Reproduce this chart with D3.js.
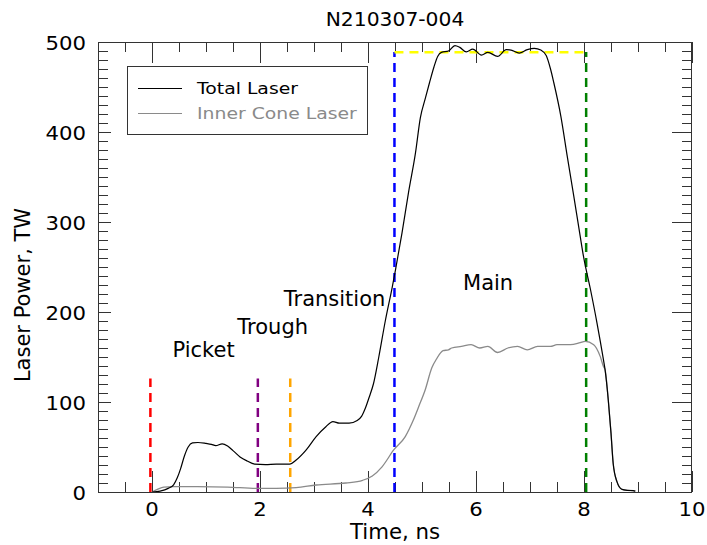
<!DOCTYPE html>
<html lang="en">
    <head>
        <meta charset="utf-8">
        <title>N210307-004</title>
        <script src="https://d3js.org/d3.v7.min.js"></script>
    </head>

    <style type="text/css">
        body {
            margin: 0;
            background: white;
        }

        text {
            font-family: "DejaVu Sans", sans-serif;
        }
    </style>

    <body>
        <div class="chart"></div>
        <script type="text/javascript">
            // laser pulse shape
            var totalTime = [0.00, 0.15, 0.30, 0.40, 0.47, 0.53, 0.60, 0.67, 0.75, 0.85, 1.00, 1.10, 1.18, 1.30, 1.40, 1.50, 1.63, 1.76, 1.90, 2.10, 2.30, 2.55, 2.67, 2.86, 3.04, 3.22, 3.35, 3.47, 3.65, 3.80, 3.88, 3.95, 4.02, 4.10, 4.20, 4.32, 4.45, 4.51, 4.63, 4.75, 4.88, 4.97, 5.06, 5.14, 5.22, 5.29, 5.36, 5.49, 5.61, 5.70, 5.82, 5.94, 6.10, 6.22, 6.40, 6.56, 6.65, 6.80, 6.95, 7.08, 7.20, 7.30, 7.38, 7.44, 7.57, 7.69, 7.81, 7.93, 7.99, 8.12, 8.24, 8.36, 8.39, 8.45, 8.50, 8.54, 8.61, 8.70, 8.80, 8.91, 8.95];
            var totalPower = [0, 1, 4, 8, 16, 26, 40, 50, 54.5, 55, 54, 53, 51.5, 53.5, 51, 46, 39, 34.5, 31, 30.5, 31, 31, 35.5, 47, 61.5, 72.5, 78.3, 76.5, 76.5, 79.4, 84, 93, 105, 120, 150, 190, 228, 247, 288, 332.6, 377, 416, 437, 455, 472, 484, 488.5, 490, 496, 494, 489, 492, 485.5, 488.5, 484, 491.5, 491, 487.7, 491.5, 493, 491, 485, 470, 455, 418, 373, 329, 284, 262, 225, 188, 147, 136, 102, 65.5, 32, 11.5, 3, 1.8, 1.5, 1];

            var innerTime = [0.00, 0.10, 0.22, 0.40, 0.84, 1.40, 1.94, 2.30, 2.67, 3.04, 3.59, 3.90, 4.08, 4.26, 4.48, 4.69, 4.84, 4.94, 5.06, 5.18, 5.27, 5.39, 5.49, 5.55, 5.73, 5.91, 6.07, 6.22, 6.40, 6.59, 6.77, 6.95, 7.14, 7.38, 7.50, 7.75, 7.93, 8.02, 8.18, 8.30, 8.36, 8.39, 8.45, 8.50, 8.54, 8.61, 8.70, 8.80, 8.91, 8.95];
            var innerPower = [0, 3, 5.5, 6, 6, 5.5, 4, 4, 4.8, 7.8, 10, 13, 17.8, 28, 47, 61.6, 80, 95, 113.6, 137.7, 148, 157, 158, 160, 161.8, 163.7, 160, 161.8, 155, 160, 161.8, 158, 161.8, 161.8, 163.7, 163.7, 166, 167.4, 163.7, 150.7, 139.5, 136, 102, 65.5, 32, 11.5, 3, 1.8, 1.5, 1];

            // phase markers: time, top of the line, colour
            var markerTime = [-0.03, 1.96, 2.56, 4.49, 8.04];
            var markerTop = [126, 126, 126, 489, 489];
            var markerColor = ["red", "purple", "orange", "blue", "green"];
            var flatTop = 488.5;

            var phaseLabels = ["Picket", "Trough", "Transition", "Main"];
            var phaseX = [0.38, 1.58, 2.44, 5.76];
            var phaseY = [150, 176, 207, 225];

            var xTicks = [0, 2, 4, 6, 8, 10];
            var yTicks = [0, 100, 200, 300, 400, 500];

            var legendNames = ["Total Laser", "Inner Cone Laser"];
            var legendColors = ["black", "#8a8a8a"];

            // setup canvas
            var width = 707, height = 545;
            var plotL = 98, plotR = 692, plotT = 42, plotB = 492;

            var canvas = d3.select(".chart")
                        .append("svg")
                        .attr("width", width)
                        .attr("height", height);

            var xScale = d3.scaleLinear().domain([-1, 10]).range([plotL, plotR]);
            var yScale = d3.scaleLinear().domain([0, 500]).range([plotB, plotT]);

            // text helper; sx widens glyphs a little where the picture does
            function label(x, y, str, size, anchor, opts) {
                opts = opts || {};
                var sx = opts.sx || 1;
                return canvas.append("text")
                    .attr("transform", "translate(" + x + "," + y + ") scale(" + sx + ",1)" + (opts.rotate ? " rotate(-90)" : ""))
                    .attr("text-anchor", anchor)
                    .style("font-size", size + "px")
                    .style("fill", opts.color || "black")
                    .text(str);
            }

            // minor + major ticks, all pointing inward
            var xMinor = d3.range(-1, 10.01, 0.5);
            var yMinor = d3.range(0, 500.1, 10);
            var tickG = canvas.append("g").style("stroke", "#333").style("stroke-width", 1);

            xMinor.forEach(function(t) {
                var len = (t % 2 === 0) ? 21 : 10;
                var x = Math.round(xScale(t)) + 0.5;
                tickG.append("line").attr("x1", x).attr("x2", x).attr("y1", plotB).attr("y2", plotB - len);
                tickG.append("line").attr("x1", x).attr("x2", x).attr("y1", plotT).attr("y2", plotT + len);
            });
            yMinor.forEach(function(p) {
                var major = (p % 100 === 0);
                var y = Math.round(yScale(p)) + 0.5;
                tickG.append("line").attr("x1", plotL).attr("x2", plotL + (major ? 13 : 10)).attr("y1", y).attr("y2", y);
                tickG.append("line").attr("x1", plotR).attr("x2", plotR - (major ? 20 : 10)).attr("y1", y).attr("y2", y);
            });

            // phase marker lines
            canvas.selectAll(".marker")
                .data(markerTime)
                .enter()
                .append("line")
                .attr("class", "marker")
                .attr("x1", function(d) { return xScale(d); })
                .attr("x2", function(d) { return xScale(d); })
                .attr("y1", yScale(0))
                .attr("y2", function(d, i) { return yScale(markerTop[i]); })
                .style("stroke", function(d, i) { return markerColor[i]; })
                .style("stroke-width", 2.5)
                .style("stroke-dasharray", "9,6");

            canvas.append("line")
                .attr("x1", xScale(markerTime[3]))
                .attr("x2", xScale(markerTime[4]))
                .attr("y1", yScale(flatTop))
                .attr("y2", yScale(flatTop))
                .style("stroke", "yellow")
                .style("stroke-width", 2.5)
                .style("stroke-dasharray", "9,6");

            // pulse curves
            var line = d3.line()
                .x(function(d) { return xScale(d[0]); })
                .y(function(d) { return yScale(d[1]); })
                .curve(d3.curveMonotoneX);

            var innerData = d3.zip(innerTime, innerPower);
            var totalData = d3.zip(totalTime, totalPower);

            canvas.append("path")
                .attr("d", line(innerData))
                .style("fill", "none")
                .style("stroke", legendColors[1])
                .style("stroke-width", 1.3);

            canvas.append("path")
                .attr("d", line(totalData))
                .style("fill", "none")
                .style("stroke", legendColors[0])
                .style("stroke-width", 1.2);

            // frame
            canvas.append("rect")
                .attr("x", plotL + 0.5)
                .attr("y", plotT + 0.5)
                .attr("width", plotR - plotL - 1)
                .attr("height", plotB - plotT)
                .style("fill", "none")
                .style("stroke", "#333")
                .style("stroke-width", 1);

            // tick labels
            xTicks.forEach(function(t) {
                label(xScale(t), 515.5, t, 19.3, "middle", {sx: 1.1});
            });
            yTicks.forEach(function(p) {
                label(86, yScale(p) + 7.5, p, 19.3, "end", {sx: 1.1});
            });

            // axis titles and title
            label((plotL + plotR) / 2, 539, "Time, ns", 21.3, "middle");
            label(30, 295, "Laser Power, TW", 21, "middle", {rotate: true});
            label((plotL + plotR) / 2, 26, "N210307-004", 20.3, "middle");

            // phase names
            phaseLabels.forEach(function(s, i) {
                label(xScale(phaseX[i]), yScale(phaseY[i]), s, 21, "start");
            });

            // legend
            canvas.append("rect")
                .attr("x", 127.5)
                .attr("y", 66.5)
                .attr("width", 240)
                .attr("height", 68)
                .style("fill", "white")
                .style("stroke", "#333")
                .style("stroke-width", 1);

            legendNames.forEach(function(name, i) {
                var y = 88.5 + i * 25;
                canvas.append("line")
                    .attr("x1", 138).attr("x2", 182)
                    .attr("y1", y).attr("y2", y)
                    .style("stroke", legendColors[i])
                    .style("stroke-width", 1.2);
                label(197, y + 5, name, 16.5, "start", {sx: 1.14, color: legendColors[i]});
            });
        </script>
    </body>
</html>
